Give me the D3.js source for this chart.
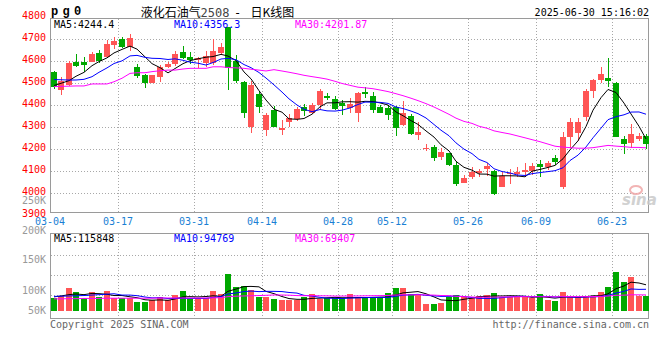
<!DOCTYPE html>
<html><head><meta charset="utf-8">
<script src="https://cdn.jsdelivr.net/npm/d3@7"></script>
<style>body{margin:0;background:#fff}svg{display:block}</style>
</head><body><svg id="c" width="660" height="360"></svg>
<script>
const dates = ["03-04","03-05","03-06","03-07","03-10","03-11","03-12","03-13","03-14","03-17","03-18","03-19","03-20","03-21","03-24","03-25","03-26","03-27","03-28","03-31",
"04-01","04-02","04-03","04-07","04-08","04-09","04-10","04-11","04-14","04-15","04-16","04-17","04-18","04-21","04-22","04-23","04-24","04-25","04-28","04-29","04-30",
"05-06","05-07","05-08","05-09","05-12","05-13","05-14","05-15","05-16","05-19","05-20","05-21","05-22","05-23","05-26","05-27","05-28","05-29","05-30",
"06-03","06-04","06-05","06-06","06-09","06-10","06-11","06-12","06-13","06-16","06-17","06-18","06-19","06-20","06-23","06-24","06-25","06-26","06-27"];
const open  = [4553,4470,4492,4598,4598,4598,4636,4618,4674,4701,4666,4575,4538,4500,4527,4575,4588,4641,4618,4604,4591,4591,4636,4755,4601,4507,4303,4450,4288,4379,4288,4326,4336,4391,4364,4401,4442,4429,4412,4389,4366,4462,4444,4391,4389,4394,4310,4351,4265,4203,4212,4166,4182,4129,4048,4075,4094,4110,4103,4030,4088,4088,4097,4103,4133,4121,4162,4027,4255,4276,4348,4466,4515,4526,4500,4247,4227,4247,4260];
const high  = [4557,4530,4601,4633,4621,4642,4651,4697,4712,4709,4724,4586,4541,4540,4583,4598,4647,4671,4641,4620,4648,4700,4685,4756,4629,4512,4510,4466,4364,4397,4333,4360,4394,4406,4412,4474,4455,4444,4424,4435,4462,4485,4462,4401,4401,4397,4421,4359,4326,4224,4220,4204,4185,4147,4083,4118,4109,4139,4106,4098,4109,4121,4136,4136,4151,4147,4174,4280,4341,4341,4474,4520,4575,4614,4507,4260,4314,4273,4269];
const low   = [4473,4447,4490,4573,4550,4595,4591,4615,4655,4660,4648,4523,4480,4500,4507,4568,4579,4610,4586,4568,4575,4585,4630,4470,4500,4344,4276,4366,4260,4303,4265,4303,4330,4351,4360,4379,4425,4379,4356,4364,4326,4432,4366,4364,4333,4260,4305,4265,4242,4194,4148,4151,4125,4033,4045,4065,4073,4079,3994,4028,4042,4075,4075,4083,4075,4106,4129,4018,4205,4239,4330,4435,4503,4482,4257,4179,4205,4238,4200];
const close = [4482,4510,4594,4580,4583,4633,4603,4679,4692,4664,4707,4535,4503,4538,4573,4588,4633,4614,4606,4616,4624,4648,4664,4568,4512,4366,4492,4394,4356,4303,4298,4341,4383,4375,4401,4465,4432,4383,4397,4405,4455,4450,4379,4366,4356,4298,4364,4268,4280,4207,4159,4189,4129,4042,4071,4095,4101,4126,3997,4080,4094,4098,4106,4124,4121,4139,4144,4257,4326,4326,4465,4515,4542,4512,4257,4224,4268,4262,4224];
const volume = [55,66,101,83,55,83,60,87,55,55,55,40,40,46,61,46,70,87,51,55,55,87,73,165,105,110,92,63,63,54,46,46,46,63,75,51,55,55,55,75,55,55,58,61,79,101,101,73,75,30,30,34,61,70,61,55,65,70,79,61,61,61,61,55,75,48,43,83,61,61,65,65,83,105,175,127,149,65,65].map(v => v * 1000);
// moving-average values before enough history exists
const ma5Head  = [4490,4500,4512,4532];
const ma10Head = [4517,4516,4515,4515,4518,4530,4550,4570,4590];
const ma30Head = [4485,4486,4487,4488,4488,4497,4497,4497,4507,4523,4545,4548,4548,4553,4557,4560,4560,4565,4568,4568,4568,4575,4575,4572,4570,4568,4564,4560,4556];
const vma5Head  = [62000,66000,72000,75000];
const vma10Head = [64000,65000,66000,67000,68000,70000,72000,74000,76000];
const vma30Head = [53000,53000,54000,54000,55000,55000,55000,56000,56000,56000,56000,56000,56000,56000,57000,57000,57000,57000,57000,57000,57000,58000,58000,63000,65000,66000,67000,68000,69000];
const priceTicks = [4800,4700,4600,4500,4400,4300,4200,4100,4000,3900];
const volTicks = [250,200,150,100,50];
const dateTicks = ["03-04","03-17","03-31","04-14","04-28","05-12","05-26","06-09","06-23"];
const titleCode = "pg0";
const titleName = "液化石油气";
const titleNum = "2508";
const titleKind = "日K线图";
const stamp = "2025-06-30 15:16:02";
const priceMaText = ["MA5:4244.4","MA10:4356.3","MA30:4201.87"];
const volMaText = ["MA5:115848","MA10:94769","MA30:69407"];

const UP = "#ff5555", DOWN = "#00a800";
const MONO = "'DejaVu Sans Mono', monospace";
const svg = d3.select("#c");

function ma(arr, n, head) {
  return arr.map((_, i) => i < n - 1 ? head[i] : d3.mean(arr.slice(i - n + 1, i + 1)));
}

const L = 50.7, R = 649.3;
const PT = 19, PB = 213.3, VT = 234.3, VB = 318.7;
const x = d3.scaleBand().domain(dates).range([L, R]).paddingInner(0.21).paddingOuter(0);
const bw = Math.round(x.bandwidth());
const xl = d => Math.round(x(d));
const y = d3.scaleLinear().domain([3900, 4800]).range([215.3, 17.3]);
const yv = d3.scaleLinear().domain([0, 100000]).range([310.7, 288.4]);
const yvLabel = d3.scaleLinear().domain([50,100,150,200,250]).range([310.3,290.3,259.3,230,200.7]);

svg.append("defs").call(d => {
  d.append("clipPath").attr("id","cp").append("rect").attr("x",L).attr("y",PT).attr("width",R-L).attr("height",PB-PT);
  d.append("clipPath").attr("id","cv").append("rect").attr("x",L).attr("y",VT).attr("width",R-L).attr("height",VB-VT);
});

// grids
const grid = svg.append("g").attr("stroke","#a8a8a8").attr("stroke-dasharray","1,2").attr("shape-rendering","crispEdges");
priceTicks.filter(t => y(t) > PT + 1 && y(t) < PB - 1).forEach(t => {
  grid.append("line").attr("x1",L).attr("x2",R).attr("y1",Math.round(y(t))+0.5).attr("y2",Math.round(y(t))+0.5);
});
[255.3, 275.3, 295.3].forEach(v => grid.append("line").attr("x1",L).attr("x2",R).attr("y1",Math.round(v)+0.5).attr("y2",Math.round(v)+0.5));
dateTicks.slice(1).forEach(d => {
  const xx = xl(d) - 0.5;
  grid.append("line").attr("x1",xx).attr("x2",xx).attr("y1",PT).attr("y2",PB);
  grid.append("line").attr("x1",xx).attr("x2",xx).attr("y1",VT).attr("y2",VB);
});

// frames
[[PT,PB],[VT,VB]].forEach(([t,b]) => {
  svg.append("rect").attr("x",Math.round(L)-0.5).attr("y",Math.round(t)-0.5).attr("width",Math.round(R)-Math.round(L)).attr("height",Math.round(b)-Math.round(t))
    .attr("fill","none").attr("stroke","#9a9a9a").attr("shape-rendering","crispEdges");
});

// watermark
const wm = svg.append("g").attr("opacity",0.85);
wm.append("text").attr("x",622).attr("y",205).attr("font-family","'DejaVu Sans', sans-serif").attr("font-weight","bold").attr("font-style","italic")
  .attr("font-size",15).attr("fill","#c9c9c9").text("sina");
wm.append("ellipse").attr("cx",636).attr("cy",190).attr("rx",6).attr("ry",4).attr("fill","none").attr("stroke","#f0a8a8").attr("stroke-width",2);

// candles
const cg = svg.append("g").attr("clip-path","url(#cp)").attr("shape-rendering","crispEdges");
dates.forEach((d, i) => {
  const col = close[i] >= open[i] ? UP : DOWN;
  const x0 = xl(d);
  const top = Math.round(y(high[i])), bot = Math.round(y(low[i]));
  cg.append("rect").attr("x",x0+Math.floor(bw/2)).attr("y",top).attr("width",1).attr("height",Math.max(1,bot-top)).attr("fill",col);
  const b1 = Math.round(y(Math.max(open[i],close[i]))), b2 = Math.round(y(Math.min(open[i],close[i])));
  cg.append("rect").attr("x",x0).attr("y",b1).attr("width",bw).attr("height",Math.max(1,b2-b1)).attr("fill",col);
});

// price MAs
const lineP = d3.line().x((v,i) => xl(dates[i]) + bw/2).y(v => y(v));
[[ma(close,5,ma5Head),"#000000"],[ma(close,10,ma10Head),"#0000ff"],[ma(close,30,ma30Head),"#ff00ff"]].forEach(([s,c]) => {
  svg.append("path").attr("clip-path","url(#cp)").attr("d",lineP(s)).attr("fill","none").attr("stroke",c).attr("stroke-width",1);
});

// volume bars
const vg = svg.append("g").attr("clip-path","url(#cv)").attr("shape-rendering","crispEdges");
dates.forEach((d, i) => {
  const col = close[i] >= open[i] ? UP : DOWN;
  const t = Math.round(yv(volume[i])), b = Math.round(yv(0));
  vg.append("rect").attr("x",xl(d)).attr("y",t).attr("width",bw).attr("height",b-t).attr("fill",col);
});
const lineV = d3.line().x((v,i) => xl(dates[i]) + bw/2).y(v => yv(v));
[[ma(volume,5,vma5Head),"#000000"],[ma(volume,10,vma10Head),"#0000ff"],[ma(volume,30,vma30Head),"#ff00ff"]].forEach(([s,c]) => {
  svg.append("path").attr("clip-path","url(#cv)").attr("d",lineV(s)).attr("fill","none").attr("stroke",c).attr("stroke-width",1);
});

// price axis labels
const txt = (g) => g.attr("font-family",MONO).attr("font-size",10);
priceTicks.forEach(t => {
  svg.append("text").call(txt).attr("x",46).attr("y",y(t)+1.8).attr("text-anchor","end").attr("fill","#ff0000").text(t);
});
volTicks.forEach(t => {
  svg.append("text").call(txt).attr("x",46).attr("y",yvLabel(t)+3.6).attr("text-anchor","end").attr("fill","#999999").text(t + "K");
});
dateTicks.forEach(d => {
  svg.append("text").call(txt).attr("x",xl(d)-1).attr("y",225.4).attr("text-anchor","middle").attr("fill","#1a7fd4").text(d);
});

// MA legends
const maCols = ["#000000","#0000ff","#ff00ff"], maX = [54,174,295];
priceMaText.forEach((t,i) => svg.append("text").call(txt).attr("x",maX[i]).attr("y",27.6).attr("fill",maCols[i]).text(t));
volMaText.forEach((t,i) => svg.append("text").call(txt).attr("x",maX[i]).attr("y",241.9).attr("fill",maCols[i]).text(t));

// title
svg.append("text").attr("x",51).attr("y",14.7).attr("font-family","'Liberation Mono', monospace").attr("font-weight","bold")
  .attr("font-size",12).attr("letter-spacing",4.3).attr("fill","#000").text(titleCode);
svg.append("text").attr("x",140.7).attr("y",16.8).attr("font-family","'Noto Sans CJK SC', sans-serif").attr("font-size",12).attr("fill","#000").text(titleName);
svg.append("text").attr("x",200.5).attr("y",16.8).attr("font-family",MONO).attr("font-size",12).attr("fill","#444").text(titleNum);
svg.append("text").attr("x",234).attr("y",16.8).attr("font-family",MONO).attr("font-size",12).attr("fill","#000").text("-");
svg.append("text").attr("x",250.5).attr("y",16.8).attr("font-family","'Noto Sans CJK SC', sans-serif").attr("font-size",12).attr("fill","#000").text(titleKind);
svg.append("text").call(txt).attr("x",649).attr("y",16).attr("text-anchor","end").attr("fill","#000").text(stamp);

// footer
svg.append("text").call(txt).attr("x",50).attr("y",327.6).attr("fill","#666").text("Copyright 2025 SINA.COM");
svg.append("text").call(txt).attr("x",649).attr("y",327.6).attr("text-anchor","end").attr("fill","#666").text("http://finance.sina.com.cn");
</script></body></html>
